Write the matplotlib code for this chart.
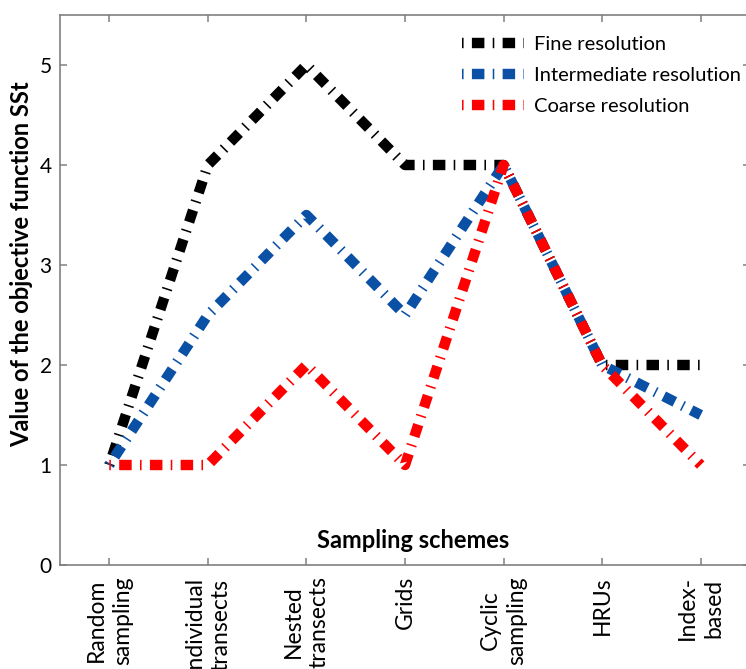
import matplotlib
matplotlib.use("Agg")
import matplotlib.pyplot as plt

plt.rcParams['font.family'] = ['Lato', 'DejaVu Sans']

schemes = ["Random\nsampling", "Individual\ntransects", "Nested\ntransects", "Grids",
           "Cyclic\nsampling", "HRUs", "Index-\nbased"]
fine = [1, 4, 5, 4, 4, 2, 2]
intermediate = [1, 2.5, 3.5, 2.5, 4, 2, 1.5]
coarse = [1, 1, 2, 1, 4, 2, 1]

series = [
    ("Fine resolution", fine, "#000000"),
    ("Intermediate resolution", intermediate, "#0a50a5"),
    ("Coarse resolution", coarse, "#ff0000"),
]

W, H = 746, 669
fig = plt.figure(figsize=(W / 100, H / 100), dpi=100)
ax = fig.add_axes([60 / W, 1 - 565 / H, 690 / W, 550 / H])

x = list(range(1, len(schemes) + 1))
dash = (0, (0.15, 0.8, 1.2, 0.8))
for label, vals, color in series:
    ax.plot(x, vals, color=color, lw=7.5, linestyle=dash,
            dash_capstyle='butt', solid_joinstyle='miter', label=label)

ax.set_xlim(0.5, 7.5)
ax.set_ylim(0, 5.5)
ax.set_yticks(range(0, 6))
ax.set_xticks(x)
ax.set_xticklabels(schemes, rotation=90, fontsize=16.5, linespacing=1.3,
                   va='top', ha='center', multialignment='center')
ax.tick_params(axis='x', pad=8)
ax.tick_params(axis='y', labelsize=15, pad=6)
ax.tick_params(direction='in', top=True, right=True, length=5, width=1.1,
               color='#808080')
for sp in ax.spines.values():
    sp.set_color('#808080')
    sp.set_linewidth(1.2)

leg = ax.legend(loc='upper left', bbox_to_anchor=(462 / W, 1 - 36 / H),
                bbox_transform=fig.transFigure, frameon=False, fontsize=14.5,
                handlelength=3.1, handletextpad=0.5, labelspacing=0.68,
                borderpad=0, borderaxespad=0)

fig.text(413 / W, 1 - 540 / H, "Sampling schemes", fontsize=17, fontweight='bold',
         ha='center', va='center')
fig.text(22 / W, 1 - 264 / H, "Value of the objective function SSt", fontsize=17,
         fontweight='bold', rotation=90, ha='center', va='center')

fig.savefig("out.png", dpi=100)
